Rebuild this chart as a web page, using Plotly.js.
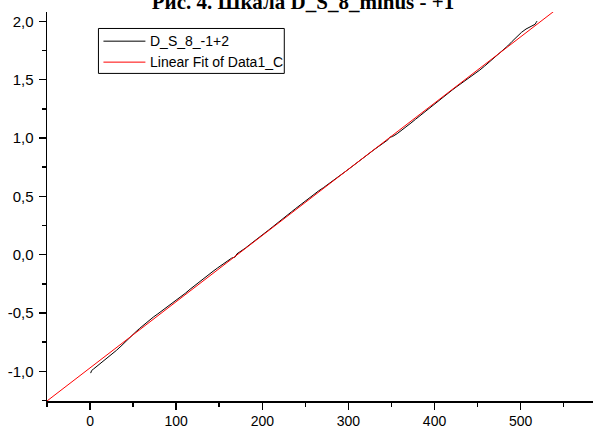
<!DOCTYPE html>
<html>
<head>
<meta charset="utf-8">
<script src="https://cdn.plot.ly/plotly-3.0.1.min.js"></script>
<style>
  html, body { margin: 0; padding: 0; background: #fff; overflow: hidden; }
  #chart { width: 593px; height: 431px; }
</style>
</head>
<body>
<div id="chart"></div>
<script>
// Scale readings D_S_8_-1+2
const scaleX = [0.7, 1.8, 3.8, 9.2, 14.6, 19.9, 25.2, 30.6, 35.9, 41.2, 46.6, 52.0, 57.3, 62.6, 67.9,
  73.4, 78.7, 84.0, 89.3, 94.7, 100.1, 105.4, 110.7, 116.1, 121.4, 126.7, 132.1, 137.5, 142.8, 148.1,
  153.4, 158.9, 164.2, 167.3, 168.4, 170.6, 174.8, 180.2, 185.5, 190.9, 196.2, 201.6, 206.9, 212.2,
  217.6, 223.0, 228.3, 233.6, 238.9, 244.4, 249.7, 255.0, 260.3, 265.7, 271.0, 276.4, 281.7, 287.1,
  292.4, 297.7, 303.1, 308.5, 313.8, 319.1, 324.4, 329.9, 335.2, 340.5, 345.8, 348.0, 351.2, 356.6,
  361.9, 367.2, 372.6, 377.9, 383.2, 388.6, 394.0, 399.3, 404.6, 409.9, 415.4, 420.7, 426.0, 431.3,
  436.7, 442.0, 447.4, 452.7, 458.1, 463.4, 468.7, 474.1, 479.5, 484.8, 490.1, 495.4, 500.9, 506.2,
  511.5, 515.7, 516.8, 517.9, 519.0];
const scaleY = [-1.016, -0.994, -0.982, -0.951, -0.920, -0.888, -0.856, -0.821, -0.785, -0.745,
  -0.709, -0.670, -0.634, -0.600, -0.569, -0.536, -0.508, -0.479, -0.450, -0.423,
  -0.394, -0.363, -0.331, -0.297, -0.265, -0.233, -0.202, -0.174, -0.143, -0.114,
  -0.084, -0.056, -0.031, -0.023, -0.021, 0.007, 0.027, 0.055, 0.086, 0.115,
  0.144, 0.176, 0.208, 0.239, 0.269, 0.301, 0.332, 0.365, 0.396, 0.428,
  0.459, 0.490, 0.519, 0.548, 0.574, 0.602, 0.631, 0.660, 0.690, 0.719,
  0.749, 0.780, 0.813, 0.844, 0.873, 0.900, 0.928, 0.956, 0.984, 1.006,
  1.012, 1.037, 1.065, 1.095, 1.128, 1.160, 1.192, 1.221, 1.251, 1.284,
  1.317, 1.350, 1.382, 1.412, 1.441, 1.469, 1.496, 1.523, 1.552, 1.583,
  1.616, 1.649, 1.685, 1.719, 1.752, 1.788, 1.828, 1.869, 1.905, 1.934,
  1.957, 1.971, 1.975, 1.989, 2.002];

// Linear fit y = A + B*x of Data1_C
const fitA = -0.971;
const fitB = 0.005676;
const fitX = [-50, 600];
const fitY = fitX.map(x => fitA + fitB * x);

const seriesNames = ['D_S_8_-1+2', 'Linear Fit of Data1_C'];
const seriesColors = ['#000000', '#ff0000'];

const xTicks = [0, 100, 200, 300, 400, 500];
const yTicks = [-1.0, -0.5, 0.0, 0.5, 1.0, 1.5, 2.0];
const yTickText = ['-1,0', '-0,5', '0,0', '0,5', '1,0', '1,5', '2,0'];

const traces = [
  {
    x: scaleX, y: scaleY, type: 'scatter', mode: 'lines',
    name: seriesNames[0], showlegend: false,
    line: { color: seriesColors[0], width: 1 }
  },
  {
    x: fitX, y: fitY, type: 'scatter', mode: 'lines',
    name: seriesNames[1], showlegend: false,
    line: { color: seriesColors[1], width: 1 }
  }
];

// Plot area in pixels, used to place the boxed key in paper units
const M = { l: 46.5, r: 0, t: 11.5, b: 30 };
const W = 593, H = 431;
const pw = W - M.l - M.r, ph = H - M.t - M.b;
const px = v => (v - M.l) / pw;
const py = v => (H - M.b - v) / ph;

const keyBox = { x0: 98, x1: 284, y0: 28, y1: 73 };
const keyRows = [40.7, 61.7];
const keyLine = [103, 145];
const keyTextX = 148;

const shapes = [{
  type: 'rect', xref: 'paper', yref: 'paper',
  x0: px(keyBox.x0), x1: px(keyBox.x1), y0: py(keyBox.y1), y1: py(keyBox.y0),
  line: { color: '#000', width: 1 }, fillcolor: '#fff', layer: 'above'
}];
const annotations = [];
keyRows.forEach((ry, i) => {
  shapes.push({
    type: 'line', xref: 'paper', yref: 'paper',
    x0: px(keyLine[0]), x1: px(keyLine[1]), y0: py(ry), y1: py(ry),
    line: { color: seriesColors[i], width: 1 }, layer: 'above'
  });
  annotations.push({
    xref: 'paper', yref: 'paper', x: px(keyTextX), y: py(ry),
    xanchor: 'left', yanchor: 'middle', showarrow: false,
    text: seriesNames[i],
    font: { family: 'Liberation Sans, Arial, sans-serif', size: 14, color: '#000' }
  });
});

const axisCommon = {
  showgrid: false, zeroline: false,
  showline: true, linecolor: '#000', linewidth: 1.5,
  ticks: 'outside', ticklen: 7, tickwidth: 1.5, tickcolor: '#000',
  mirror: false
};

const layout = {
  width: W, height: H,
  margin: { l: M.l, r: M.r, t: M.t, b: M.b, pad: 0 },
  paper_bgcolor: '#fff', plot_bgcolor: '#fff',
  showlegend: false,
  title: {
    text: '<b>Рис. 4. Шкала D_S_8_minus - +1</b>',
    font: { family: 'Liberation Serif, Times New Roman, serif', size: 21, color: '#000' },
    xref: 'container', x: 303 / 593, xanchor: 'center',
    yref: 'container', y: 0.996, yanchor: 'middle'
  },
  xaxis: Object.assign({}, axisCommon, {
    range: [-50, 584],
    tickvals: xTicks,
    tickfont: { family: 'Liberation Sans, Arial, sans-serif', size: 14, color: '#000' },
    minor: { dtick: 50, tick0: 0, ticks: 'outside', ticklen: 4, tickwidth: 1.5, tickcolor: '#000' }
  }),
  yaxis: Object.assign({}, axisCommon, {
    range: [-1.255, 2.08],
    tickvals: yTicks, ticktext: yTickText,
    ticklabelstandoff: 2,
    tickfont: { family: 'Liberation Sans, Arial, sans-serif', size: 15, color: '#000' },
    minor: { dtick: 0.25, tick0: 0, ticks: 'outside', ticklen: 4, tickwidth: 1.5, tickcolor: '#000' }
  }),
  shapes: shapes,
  annotations: annotations
};

Plotly.newPlot('chart', traces, layout, { staticPlot: true, displayModeBar: false });
</script>
</body>
</html>
